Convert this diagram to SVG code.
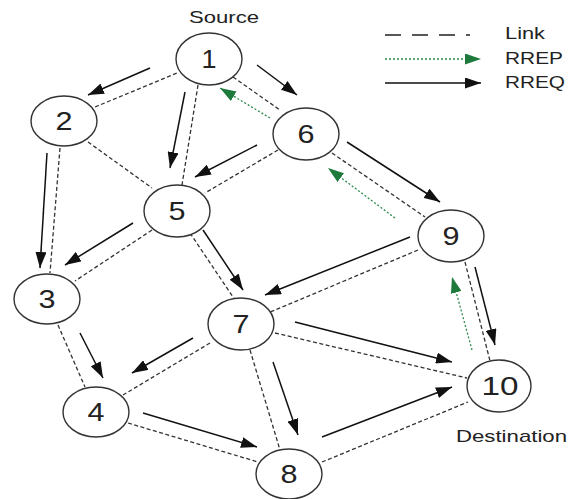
<svg xmlns="http://www.w3.org/2000/svg" width="569" height="499" viewBox="0 0 569 499">
  <defs>
    <marker id="headBlack" markerUnits="userSpaceOnUse" markerWidth="16" markerHeight="11" refX="16" refY="5.5" orient="auto">
      <path d="M0,0 L16,5.5 L0,11 z" fill="#111"/>
    </marker>
    <marker id="headGreen" markerUnits="userSpaceOnUse" markerWidth="16" markerHeight="11" refX="16" refY="5.5" orient="auto">
      <path d="M0,0 L16,5.5 L0,11 z" fill="#1e7a3c"/>
    </marker>
  </defs>
  <style>
    .link { stroke: #333; stroke-width: 1.3; stroke-dasharray: 4 2.5; fill: none; }
    .rreq { stroke: #111; stroke-width: 1.5; fill: none; marker-end: url(#headBlack); }
    .rrep { stroke: #2f8a4c; stroke-width: 1.3; stroke-dasharray: 2 2; fill: none; marker-end: url(#headGreen); }
    .node ellipse { fill: #fff; stroke: #333; stroke-width: 1.4; }
    .num { font-family: "Liberation Sans", Arial, sans-serif; font-size: 25px; fill: #222; text-anchor: middle; }
    .lbl { font-family: "Liberation Sans", Arial, sans-serif; font-size: 17px; fill: #222; }
  </style>
  <rect width="569" height="499" fill="#fff"/>

  <!-- connectors: dashed links, RREQ arrows, RREP arrows -->
  <g id="connectors">
    <line class="link" x1="95" y1="107" x2="177" y2="73"/>
    <line class="link" x1="198" y1="85" x2="182" y2="185"/>
    <line class="link" x1="233" y1="77" x2="280" y2="110"/>
    <line class="link" x1="60" y1="148" x2="50" y2="273"/>
    <line class="link" x1="88" y1="142" x2="152" y2="188"/>
    <line class="link" x1="278" y1="150" x2="205" y2="193"/>
    <line class="link" x1="332" y1="153" x2="425" y2="217"/>
    <line class="link" x1="152" y1="230" x2="75" y2="281"/>
    <line class="link" x1="190" y1="233" x2="235" y2="300"/>
    <line class="link" x1="418" y1="250" x2="268" y2="313"/>
    <line class="link" x1="465" y1="262" x2="490" y2="361"/>
    <line class="link" x1="58" y1="325" x2="85" y2="387"/>
    <line class="link" x1="210" y1="343" x2="123" y2="395"/>
    <line class="link" x1="128" y1="423" x2="258" y2="462"/>
    <line class="link" x1="250" y1="350" x2="280" y2="450"/>
    <line class="link" x1="275" y1="333" x2="467" y2="378"/>
    <line class="link" x1="322" y1="462" x2="468" y2="402"/>

    <line class="rreq" x1="150" y1="68" x2="88" y2="95"/>
    <line class="rreq" x1="185" y1="92" x2="170" y2="168"/>
    <line class="rreq" x1="257" y1="65" x2="297" y2="95"/>
    <line class="rreq" x1="47" y1="153" x2="40" y2="268"/>
    <line class="rreq" x1="257" y1="145" x2="195" y2="177"/>
    <line class="rreq" x1="347" y1="142" x2="440" y2="202"/>
    <line class="rreq" x1="133" y1="223" x2="65" y2="265"/>
    <line class="rreq" x1="203" y1="230" x2="243" y2="290"/>
    <line class="rreq" x1="410" y1="237" x2="265" y2="295"/>
    <line class="rreq" x1="475" y1="267" x2="495" y2="345"/>
    <line class="rreq" x1="80" y1="333" x2="103" y2="378"/>
    <line class="rreq" x1="193" y1="338" x2="132" y2="373"/>
    <line class="rreq" x1="143" y1="413" x2="257" y2="447"/>
    <line class="rreq" x1="273" y1="362" x2="298" y2="435"/>
    <line class="rreq" x1="295" y1="322" x2="452" y2="362"/>
    <line class="rreq" x1="322" y1="437" x2="452" y2="387"/>

    <line class="rrep" x1="270" y1="118" x2="220" y2="88"/>
    <line class="rrep" x1="395" y1="218" x2="328" y2="168"/>
    <line class="rrep" x1="472" y1="350" x2="452" y2="277"/>
  </g>

  <!-- nodes -->
  <g id="node1" class="node"><ellipse cx="209" cy="59" rx="33" ry="26"/><text class="num" x="209" y="68" textLength="15" lengthAdjust="spacingAndGlyphs">1</text></g>
  <g id="node2" class="node"><ellipse cx="64" cy="121" rx="33" ry="25"/><text class="num" x="64" y="130" textLength="17" lengthAdjust="spacingAndGlyphs">2</text></g>
  <g id="node3" class="node"><ellipse cx="47" cy="299" rx="33" ry="25"/><text class="num" x="47" y="308" textLength="17" lengthAdjust="spacingAndGlyphs">3</text></g>
  <g id="node4" class="node"><ellipse cx="96" cy="412" rx="33" ry="25"/><text class="num" x="96" y="421" textLength="17" lengthAdjust="spacingAndGlyphs">4</text></g>
  <g id="node5" class="node"><ellipse cx="177" cy="211" rx="33" ry="26"/><text class="num" x="177" y="220" textLength="17" lengthAdjust="spacingAndGlyphs">5</text></g>
  <g id="node6" class="node"><ellipse cx="306" cy="134" rx="33" ry="26"/><text class="num" x="306" y="143" textLength="17" lengthAdjust="spacingAndGlyphs">6</text></g>
  <g id="node7" class="node"><ellipse cx="241" cy="324" rx="33" ry="26"/><text class="num" x="241" y="333" textLength="17" lengthAdjust="spacingAndGlyphs">7</text></g>
  <g id="node8" class="node"><ellipse cx="289" cy="474" rx="33" ry="25"/><text class="num" x="289" y="483" textLength="17" lengthAdjust="spacingAndGlyphs">8</text></g>
  <g id="node9" class="node"><ellipse cx="451" cy="236" rx="33" ry="26"/><text class="num" x="451" y="245" textLength="17" lengthAdjust="spacingAndGlyphs">9</text></g>
  <g id="node10" class="node"><ellipse cx="499" cy="386" rx="32" ry="26"/><text class="num" x="500" y="395" textLength="37" lengthAdjust="spacingAndGlyphs">10</text></g>

  <!-- captions -->
  <text class="lbl" x="189" y="23" textLength="70" lengthAdjust="spacingAndGlyphs">Source</text>
  <text class="lbl" x="456" y="442" textLength="111" lengthAdjust="spacingAndGlyphs">Destination</text>

  <!-- legend -->
  <g id="legend">
    <line x1="385" y1="35" x2="470" y2="35" stroke="#222" stroke-width="1.5" stroke-dasharray="16 11"/>
    <line class="rrep" x1="385" y1="59" x2="481" y2="59"/>
    <line class="rreq" x1="385" y1="83" x2="481" y2="83"/>
    <text class="lbl" x="505" y="39" textLength="40" lengthAdjust="spacingAndGlyphs">Link</text>
    <text class="lbl" x="505" y="64" textLength="58" lengthAdjust="spacingAndGlyphs">RREP</text>
    <text class="lbl" x="505" y="88" textLength="60" lengthAdjust="spacingAndGlyphs">RREQ</text>
  </g>
</svg>
